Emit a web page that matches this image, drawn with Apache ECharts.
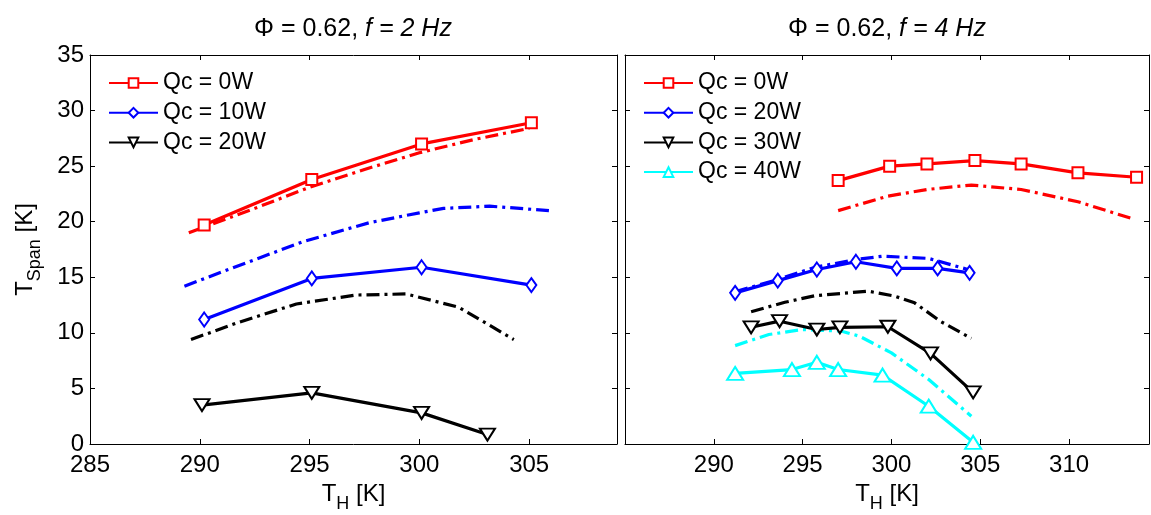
<!DOCTYPE html>
<html>
<head>
<meta charset="utf-8">
<script src="https://cdn.jsdelivr.net/npm/echarts@6/dist/echarts.min.js"></script>
<style>
  html, body { margin: 0; padding: 0; background: #fff; }
  #chart { width: 1151px; height: 515px; }
</style>
</head>
<body>
<div id="chart"></div>
<script>
// ---- Panel titles and axis ticks ----
const panelTitles = ['{n|\u03A6 = 0.62, }{i|f = 2 Hz}', '{n|\u03A6 = 0.62, }{i|f = 4 Hz}'];
const yTicks = { min: 0, max: 35, step: 5 };
const xTicksLeft = { min: 285, max: 309, step: 5 };
const xTicksRight = { min: 285, max: 314.5, step: 5 };

// ---- f = 2 Hz : measured [T_H, T_span] ----
const left_0W = [[290.2, 19.7], [295.1, 23.8], [300.1, 27.0], [305.1, 28.9]];
const left_10W = [[290.2, 11.2], [295.1, 14.9], [300.1, 15.9], [305.1, 14.3]];
const left_20W = [[290.1, 3.5], [295.1, 4.6], [300.1, 2.8], [303.1, 0.85]];
// ---- f = 2 Hz : model curves ----
const leftModel_0W = [[289.5, 19.0], [292.5, 21.2], [295, 23.1], [297.5, 24.7], [300, 26.2], [302.5, 27.4], [305, 28.4]];
const leftModel_10W = [[289.3, 14.2], [291.7, 16.0], [294.7, 18.2], [297.7, 19.9], [300, 20.8], [301.1, 21.2], [303.2, 21.4], [305.9, 21.0]];
const leftModel_20W = [[289.6, 9.4], [291.7, 10.9], [294.4, 12.6], [297.1, 13.4], [299.4, 13.5], [301.8, 12.3], [304.3, 9.4]];

// ---- f = 4 Hz : measured ----
const right_0W = [[297.0, 23.7], [299.9, 25.0], [302.0, 25.2], [304.7, 25.5], [307.3, 25.2], [310.5, 24.4], [313.8, 24.0]];
const right_20W = [[291.2, 13.6], [293.6, 14.7], [295.8, 15.7], [298.0, 16.4], [300.3, 15.8], [302.6, 15.8], [304.4, 15.4]];
const right_30W = [[292.1, 10.5], [293.7, 11.05], [295.8, 10.3], [297.1, 10.5], [299.8, 10.55], [302.2, 8.15], [304.6, 4.65]];
const right_40W = [[291.2, 6.35], [294.4, 6.7], [295.8, 7.35], [297.0, 6.7], [299.5, 6.2], [302.1, 3.4], [304.6, 0.15]];
// ---- f = 4 Hz : model curves ----
const rightModel_0W = [[297.0, 21.0], [299.8, 22.3], [302, 22.9], [304.5, 23.3], [307.3, 22.9], [310.5, 21.8], [313.7, 20.2]];
const rightModel_20W = [[291.2, 13.7], [293.6, 14.8], [295.7, 15.9], [298.0, 16.6], [299.5, 16.9], [302.1, 16.7], [304.3, 15.7]];
const rightModel_30W = [[292.1, 11.9], [294.0, 12.75], [295.7, 13.35], [298.7, 13.75], [300.2, 13.3], [301.3, 12.7], [302.8, 11.0], [304.5, 9.5]];
const rightModel_40W = [[291.2, 8.85], [293.1, 9.85], [295.0, 10.3], [297.2, 10.15], [298.2, 9.7], [300.0, 8.2], [302.1, 5.8], [304.5, 2.5]];

// ---- Legend labels ----
const leftLegend = ['Qc = 0W', 'Qc = 10W', 'Qc = 20W'];
const rightLegend = ['Qc = 0W', 'Qc = 20W', 'Qc = 30W', 'Qc = 40W'];

const FONT = '"Liberation Sans", Arial, Helvetica, sans-serif';
const RED = '#ff0000', BLUE = '#0000ff', BLACK = '#000000', CYAN = '#00ffff';
const DASH_DOT = [13, 5, 3, 5];

// series names carry a panel prefix so each legend picks its own series
const tag = (p, s) => p + '|' + s;

function measured(panel, label, data, color, symbol, size, rotate) {
  return {
    name: tag(panel, label), type: 'line',
    xAxisIndex: panel === 'L' ? 0 : 2, yAxisIndex: panel === 'L' ? 0 : 2,
    data, symbol, symbolSize: size, symbolRotate: rotate, showAllSymbol: true,
    lineStyle: { color, width: 3.2 },
    itemStyle: { color, borderColor: color, borderWidth: 2.5 },
    z: 4, silent: true
  };
}
function model(panel, key, data, color) {
  return {
    name: tag(panel, key), type: 'line',
    xAxisIndex: panel === 'L' ? 0 : 2, yAxisIndex: panel === 'L' ? 0 : 2,
    data, symbol: 'none',
    lineStyle: { color, width: 3.2, type: DASH_DOT },
    z: 3, silent: true
  };
}

const tickStyle = { inside: true, length: 5, lineStyle: { color: '#000', width: 1 } };
const lineStyle = { onZero: false, lineStyle: { color: '#000', width: 1 } };
const labelStyle = { color: '#000', fontSize: 24, fontFamily: FONT };

// axis names with a subscript: the small token is pushed down by its top padding
const nameRich = {
  m: { fontSize: 24, fontFamily: FONT, color: '#000', lineHeight: 34, verticalAlign: 'top' },
  s: { fontSize: 18, fontFamily: FONT, color: '#000', lineHeight: 34, verticalAlign: 'top', padding: [13, 0, 0, 0] }
};

function xAxes(gi, t, hideMin) {
  const base = { gridIndex: gi, type: 'value', min: t.min, max: t.max, interval: t.step,
    axisLine: lineStyle, axisTick: tickStyle, splitLine: { show: false } };
  return [
    Object.assign({}, base, {
      position: 'bottom',
      axisLabel: Object.assign({ margin: 9, showMaxLabel: false, showMinLabel: !hideMin }, labelStyle),
      name: '{m|T}{s|H}{m| [K]}', nameLocation: 'middle', nameGap: 36,
      nameTextStyle: { rich: nameRich }
    }),
    Object.assign({}, base, { position: 'top', axisLabel: { show: false } })
  ];
}
function yAxes(gi, showLabels) {
  const base = { gridIndex: gi, type: 'value', min: yTicks.min, max: yTicks.max, interval: yTicks.step,
    axisLine: lineStyle, axisTick: tickStyle, splitLine: { show: false } };
  const leftAxis = Object.assign({}, base, { position: 'left' });
  if (showLabels) {
    leftAxis.axisLabel = Object.assign({ margin: 6 }, labelStyle);
    leftAxis.name = '{m|T}{s|Span}{m| [K]}';
    leftAxis.nameLocation = 'middle';
    leftAxis.nameGap = 43;
    leftAxis.nameTextStyle = { rich: nameRich };
  } else {
    leftAxis.axisLabel = { show: false };
  }
  return [leftAxis, Object.assign({}, base, { position: 'right', axisLabel: { show: false } })];
}

const titleRich = {
  n: { fontSize: 25, fontFamily: FONT, color: '#000', fontWeight: 'normal' },
  i: { fontSize: 25, fontFamily: FONT, color: '#000', fontWeight: 'normal', fontStyle: 'italic' }
};

function legend(panel, labels, left, top) {
  return {
    data: labels.map(l => tag(panel, l)),
    formatter: n => n.split('|')[1],
    orient: 'vertical', left, top, padding: 0,
    itemWidth: 49, itemHeight: 12, itemGap: 5.7, selectedMode: false,
    textStyle: { fontSize: 23, fontFamily: FONT, color: '#000', lineHeight: 24 }
  };
}

const option = {
  animation: false,
  backgroundColor: '#fff',
  title: [
    { text: panelTitles[0], left: 353, top: 17, textAlign: 'center', padding: 0,
      textStyle: { fontWeight: 'normal', rich: titleRich } },
    { text: panelTitles[1], left: 887, top: 17, textAlign: 'center', padding: 0,
      textStyle: { fontWeight: 'normal', rich: titleRich } }
  ],
  grid: [
    { left: 90, top: 55, width: 527, height: 389, containLabel: false, outerBoundsMode: 'none' },
    { left: 625, top: 55, width: 524, height: 389, containLabel: false, outerBoundsMode: 'none' }
  ],
  xAxis: [].concat(xAxes(0, xTicksLeft, false), xAxes(1, xTicksRight, true)),
  yAxis: [].concat(yAxes(0, true), yAxes(1, false)),
  legend: [
    legend('L', leftLegend, 108, 71),
    legend('R', rightLegend, 643, 71)
  ],
  series: [
    model('L', 'model 0W', leftModel_0W, RED),
    model('L', 'model 10W', leftModel_10W, BLUE),
    model('L', 'model 20W', leftModel_20W, BLACK),
    measured('L', leftLegend[0], left_0W, RED, 'emptyRect', 11, 0),
    measured('L', leftLegend[1], left_10W, BLUE, 'emptyDiamond', [10, 14], 0),
    measured('L', leftLegend[2], left_20W, BLACK, 'emptyTriangle', [15, 12], 180),

    model('R', 'model 0W', rightModel_0W, RED),
    model('R', 'model 20W', rightModel_20W, BLUE),
    model('R', 'model 30W', rightModel_30W, BLACK),
    model('R', 'model 40W', rightModel_40W, CYAN),
    measured('R', rightLegend[0], right_0W, RED, 'emptyRect', 11, 0),
    measured('R', rightLegend[1], right_20W, BLUE, 'emptyDiamond', [10, 14], 0),
    measured('R', rightLegend[2], right_30W, BLACK, 'emptyTriangle', [15, 12], 180),
    measured('R', rightLegend[3], right_40W, CYAN, 'emptyTriangle', [16, 13], 0)
  ]
};

const chart = echarts.init(document.getElementById('chart'), null, { renderer: 'canvas' });
chart.setOption(option);
</script>
</body>
</html>
